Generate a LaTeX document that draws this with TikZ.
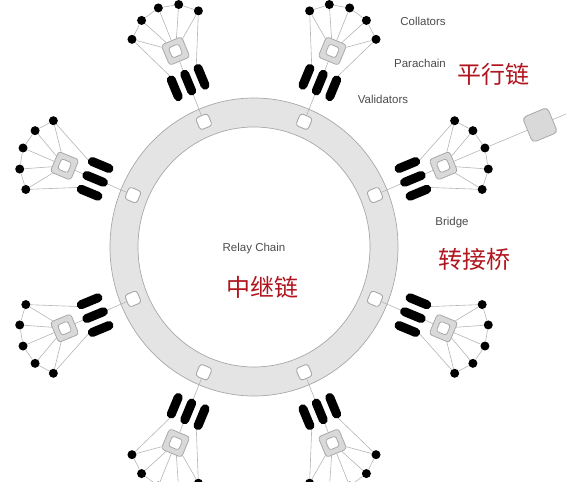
\documentclass[tikz,border=0pt]{standalone}
\usepackage{fontspec}
\setmainfont{Liberation Sans}
\newfontfamily\cjk{Noto Sans CJK SC}
\usetikzlibrary{calc}

\definecolor{rojo}{HTML}{B0161F}
\definecolor{anillo}{HTML}{E4E4E4}
\definecolor{caja}{HTML}{D9D9D9}
\definecolor{borde}{HTML}{A8A8A8}

\tikzset{
  link/.style={draw=borde!85, line width=0.6pt},
  slot/.style={draw=borde, fill=white, line width=0.9pt, rounded corners=3pt,
    minimum size=13pt, inner sep=0pt},
  parabox/.style={draw=borde, fill=caja, line width=0.8pt, rounded corners=3pt,
    minimum size=22pt, inner sep=0pt},
  parainner/.style={draw=borde, fill=white, line width=0.8pt, rounded corners=2.5pt,
    minimum size=11pt, inner sep=0pt},
  puente/.style={draw=borde, fill=caja, line width=0.8pt, rounded corners=4pt,
    minimum size=27pt, inner sep=0pt},
  validator/.style={fill=black, rounded corners=4.5pt, minimum width=27pt,
    minimum height=9pt, inner sep=0pt},
  collator/.style={circle, fill=black, minimum size=9pt, inner sep=0pt},
  etiqueta/.style={text=black!70, font=\fontsize{11.5}{13}\selectfont},
  chino/.style={text=rojo, font=\cjk\fontsize{24}{27}\selectfont}
}

\begin{document}
\begin{tikzpicture}[x=1pt, y=1.035pt]
  \useasboundingbox (-254,-227.05) rectangle (312,238.65);

  % Anillo
  \fill[anillo, even odd rule] (0,0) ellipse [x radius=144pt, y radius=149pt]
    (0,0) ellipse [x radius=116pt, y radius=120pt];
  \draw[borde, line width=0.7pt] (0,0) ellipse [x radius=144pt, y radius=149pt];
  \draw[borde, line width=0.7pt] (0,0) ellipse [x radius=116pt, y radius=120pt];

  % Parachains
  \foreach \a [count=\i] in {22.5,67.5,112.5,157.5,202.5,247.5,292.5,337.5} {
    \node[slot, rotate=\a] (s\i) at (\a:131) {};
    \node[parabox, rotate=\a] (p\i) at (\a:205) {};
    \node[parainner, rotate=\a] (q\i) at (p\i) {};
    \foreach \j [evaluate=\j as \t using (\j-2)*14.5] in {1,2,3}
      \node[validator, rotate=\a] (v\i-\j) at ($(\a:172)+(\a+90:\t)$) {};
    \foreach \k [evaluate=\k as \b using \a+(\k-3)*26.5] in {1,...,5}
      \node[collator] (c\i-\k) at ($(p\i.center)+(\b:45)$) {};

    % Conexiones
    \draw[link] (s\i) -- (v\i-2.west);
    \draw[link] (v\i-2.east) -- (p\i);
    \foreach \k in {1,...,5}
      \draw[link] (p\i) -- (c\i-\k);
    \draw[link] (c\i-1) -- (c\i-2) -- (c\i-3) -- (c\i-4) -- (c\i-5);
    \draw[link] (c\i-1) -- (v\i-1.east);
    \draw[link] (c\i-5) -- (v\i-3.east);
  }

  % Puente
  \node[puente, rotate=22.5] (bridge) at (286,117.9) {};
  \coordinate (fuera) at (312,128.5);
  \draw[link] (c1-3) -- (bridge) -- (fuera);

  % Etiquetas
  \node[etiqueta] (lcoll) at (169,218.4) {Collators};
  \node[etiqueta] (lpara) at (166,177.8) {Parachain};
  \node[etiqueta] (lval) at (129,143) {Validators};
  \node[etiqueta] (lrelay) at (0,-1) {Relay Chain};
  \node[etiqueta] (lbridge) at (198,23.2) {Bridge};
  \node[chino] (cpara) at (240,167.1) {平行链};
  \node[chino] (crelay) at (9,-39.1) {中继链};
  \node[chino] (cbridge) at (221,-12.1) {转接桥};
\end{tikzpicture}
\end{document}
